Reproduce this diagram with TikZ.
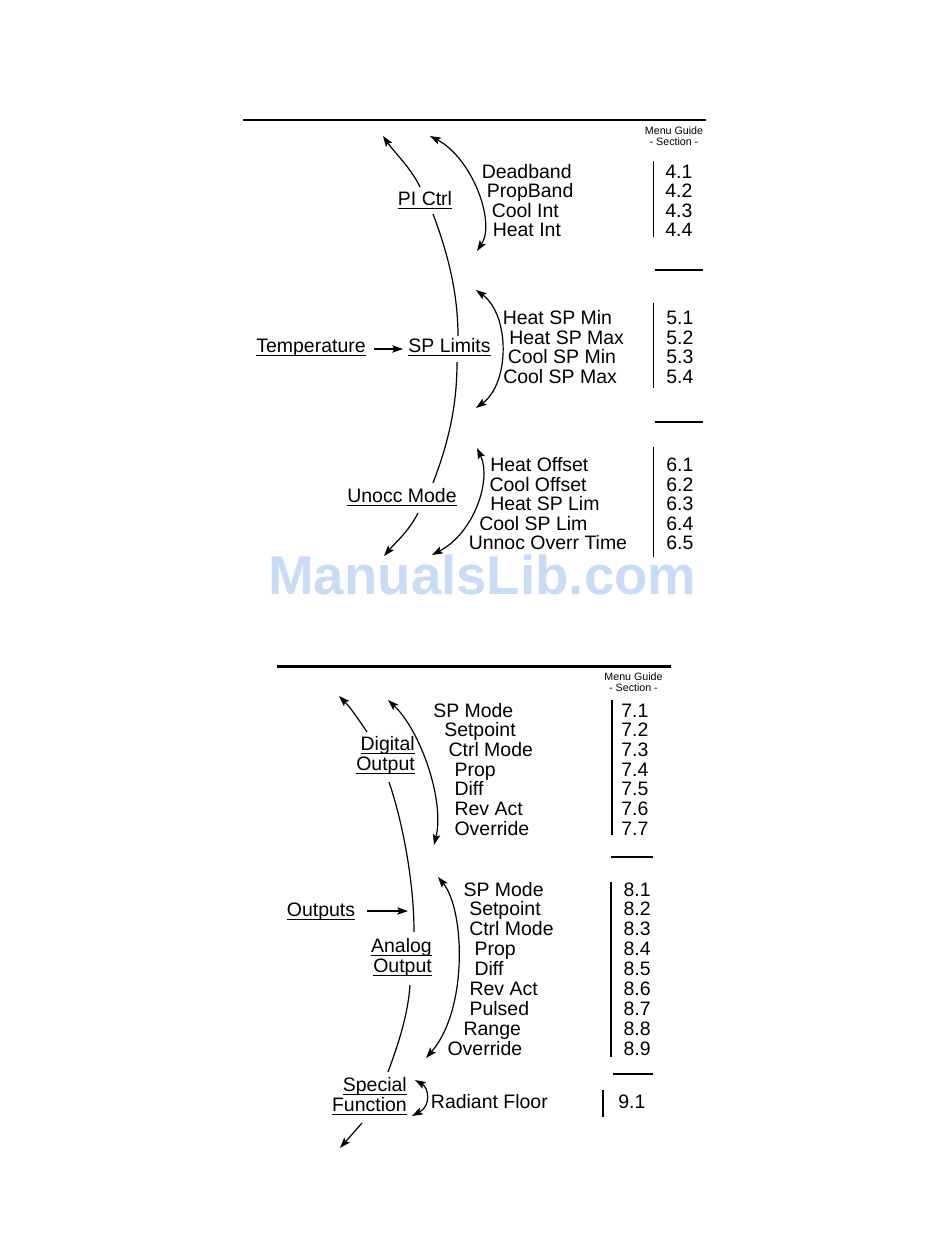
\documentclass[tikz,border=0pt]{standalone}
\usepackage{fontspec}
\setmainfont{Liberation Sans}
\usetikzlibrary{arrows.meta}
\definecolor{wm}{RGB}{200,220,245}
\newsavebox\ulbox
\newcommand\ulx[1]{\sbox\ulbox{#1}\rlap{\rule[-2.6pt]{\wd\ulbox}{0.75pt}}\usebox\ulbox}
\newcommand\mainsz{\fontsize{14.6pt}{15pt}\selectfont}
\tikzset{
  item/.style={anchor=base west, inner sep=0pt, font=\mainsz},
  lbl/.style={anchor=base, inner sep=0pt, font=\mainsz},
  lbltwo/.style={anchor=base east, inner sep=0pt, font=\mainsz},
  guide/.style={anchor=north, inner sep=0pt, align=center, font=\fontsize{8pt}{8.3pt}\selectfont},
  conn/.style={line width=0.9pt, -{Stealth[length=8pt,width=5.5pt,inset=1.5pt]}},
  dbl/.style={line width=0.9pt, {Stealth[length=8pt,width=5.5pt,inset=1.5pt]}-{Stealth[length=8pt,width=5.5pt,inset=1.5pt]}},
  plain/.style={line width=0.9pt},
  bar/.style={line width=0.8pt},
  topline/.style={line width=2.2pt}
}
\begin{document}
\begin{tikzpicture}[x=0.75pt,y=-0.75pt]
\useasboundingbox (0,0) rectangle (950,1260);
% watermark
\node[anchor=base west, inner sep=0pt, text=wm, font=\fontsize{41pt}{41pt}\selectfont\bfseries] (wmk) at (268,594) {ManualsLib.com};

% ================= TOP SECTION =================
\draw[topline] (243,120) -- (706,120);
\node[guide] (g1) at (674,126.5) {Menu Guide\\- Section -};

% group 4
\node[item] (a1) at (481.5,178.3) {Deadband};
\node[item] (a2) at (486.5,197.6) {PropBand};
\node[item] (a3) at (491.5,217) {Cool Int};
\node[item] (a4) at (492.5,236.3) {Heat Int};
\node[item] (n41) at (665,178.3) {4.1};
\node[item] (n42) at (665,197.6) {4.2};
\node[item] (n43) at (665,217) {4.3};
\node[item] (n44) at (665,236.3) {4.4};
\draw[bar] (653.5,161) -- (653.5,237);
\draw[bar] (655,270) -- (703,270);

% group 5
\node[item] (b1) at (502.5,324.5) {Heat SP Min};
\node[item] (b2) at (509,344) {Heat SP Max};
\node[item] (b3) at (507.5,363.5) {Cool SP Min};
\node[item] (b4) at (503,383) {Cool SP Max};
\node[item] (n51) at (666,324.5) {5.1};
\node[item] (n52) at (666,344) {5.2};
\node[item] (n53) at (666,363.5) {5.3};
\node[item] (n54) at (666,383) {5.4};
\draw[bar] (653.5,303) -- (653.5,388);
\draw[bar] (655,422) -- (703,422);

% group 6
\node[item] (c1) at (490,471.7) {Heat Offset};
\node[item] (c2) at (489.3,491.2) {Cool Offset};
\node[item] (c3) at (490,510.7) {Heat SP Lim};
\node[item] (c4) at (479,530) {Cool SP Lim};
\node[item] (c5) at (468.5,549.5) {Unnoc Overr Time};
\node[item] (n61) at (666,471.7) {6.1};
\node[item] (n62) at (666,491.2) {6.2};
\node[item] (n63) at (666,510.7) {6.3};
\node[item] (n64) at (666,530) {6.4};
\node[item] (n65) at (666,549.5) {6.5};
\draw[bar] (653.5,447) -- (653.5,557);

% left labels
\node[lbl] (pi) at (425,205.7) {\ulx{PI Ctrl}};
\node[lbl] (temp) at (311,352.3) {\ulx{Temperature}};
\node[lbl] (spl) at (449.5,352.3) {\ulx{SP Limits}};
\node[lbl] (unocc) at (402,502.3) {\ulx{Unocc Mode}};

% connectors top
\coordinate (piup) at (420,187);
\coordinate (piupt) at (383,136);
\draw[conn] (piup) .. controls (411,168) and (394,152) .. (piupt);
\coordinate (pidn) at (433,214);
\coordinate (spup) at (458,336);
\draw[plain] (pidn) .. controls (449,256) and (458,296) .. (spup);
\coordinate (spdn) at (457,362);
\coordinate (unup) at (433,483);
\draw[plain] (spdn) .. controls (457,405) and (449,441) .. (unup);
\coordinate (undn) at (418,513);
\coordinate (undnt) at (384,556);
\draw[conn] (undn) .. controls (409,531) and (396,542) .. (undnt);
\coordinate (tmpa) at (374,349);
\coordinate (tmpb) at (403,349);
\draw[conn] (tmpa) -- (tmpb);

\coordinate (t1a) at (430,136);
\coordinate (t1b) at (477,251);
\draw[dbl] (t1a) .. controls (472,158) and (496,222) .. (t1b);
\coordinate (t2a) at (476,290);
\coordinate (t2b) at (476,408);
\draw[dbl] (t2a) .. controls (510,315) and (510,383) .. (t2b);
\coordinate (t3a) at (477,448);
\coordinate (t3b) at (432,555);
\draw[dbl] (t3a) .. controls (492,480) and (474,533) .. (t3b);

% ================= BOTTOM SECTION =================
\draw[topline] (277,666.5) -- (671,666.5);
\node[guide] (g2) at (633.5,672.5) {Menu Guide\\- Section -};

% group 7
\node[item] (e1) at (433,717.3) {SP Mode};
\node[item] (e2) at (444,736.8) {Setpoint};
\node[item] (e3) at (448.3,756.3) {Ctrl Mode};
\node[item] (e4) at (454.3,776) {Prop};
\node[item] (e5) at (454.3,795.7) {Diff};
\node[item] (e6) at (454.3,815.7) {Rev Act};
\node[item] (e7) at (454.3,835.7) {Override};
\node[item] (n71) at (621,717.3) {7.1};
\node[item] (n72) at (621,736.8) {7.2};
\node[item] (n73) at (621,756.3) {7.3};
\node[item] (n74) at (621,776) {7.4};
\node[item] (n75) at (621,795.7) {7.5};
\node[item] (n76) at (621,815.7) {7.6};
\node[item] (n77) at (621,835.7) {7.7};
\draw[bar] (612,700) -- (612,835);
\draw[bar] (611,857) -- (653,857);

% group 8
\node[item] (f1) at (463.3,896) {SP Mode};
\node[item] (f2) at (469,915.5) {Setpoint};
\node[item] (f3) at (469,935.5) {Ctrl Mode};
\node[item] (f4) at (474.3,955.3) {Prop};
\node[item] (f5) at (474.3,975) {Diff};
\node[item] (f6) at (469.3,995) {Rev Act};
\node[item] (f7) at (469.3,1015) {Pulsed};
\node[item] (f8) at (463.3,1035) {Range};
\node[item] (f9) at (447.3,1055) {Override};
\node[item] (n81) at (623.3,896) {8.1};
\node[item] (n82) at (623.3,915.5) {8.2};
\node[item] (n83) at (623.3,935.5) {8.3};
\node[item] (n84) at (623.3,955.3) {8.4};
\node[item] (n85) at (623.3,975) {8.5};
\node[item] (n86) at (623.3,995) {8.6};
\node[item] (n87) at (623.3,1015) {8.7};
\node[item] (n88) at (623.3,1035) {8.8};
\node[item] (n89) at (623.3,1055) {8.9};
\draw[bar] (611,881.5) -- (611,1056.5);
\draw[bar] (612.5,1074) -- (653,1074);

% group 9
\node[item] (h1) at (430.7,1108.5) {Radiant Floor};
\node[item] (n91) at (618,1108.5) {9.1};
\draw[bar] (603,1090) -- (603,1117);

% left labels
\node[lbltwo] (dig) at (415,750.7) {\begin{tabular}[t]{@{}r@{}}\ulx{Digital}\\\ulx{Output}\end{tabular}};
\node[lbl] (outs) at (321,916.7) {\ulx{Outputs}};
\node[lbltwo] (ana) at (432,952.7) {\begin{tabular}[t]{@{}r@{}}\ulx{Analog}\\\ulx{Output}\end{tabular}};
\node[lbltwo] (spf) at (407,1091.7) {\begin{tabular}[t]{@{}r@{}}\ulx{Special}\\\ulx{Function}\end{tabular}};

% connectors bottom
\coordinate (digup) at (367,732);
\coordinate (digupt) at (339,696);
\draw[conn] (digup) .. controls (359,720) and (350,707) .. (digupt);
\coordinate (digdn) at (389,782);
\coordinate (anaup) at (414,932);
\draw[plain] (digdn) .. controls (402,820) and (414,880) .. (anaup);
\coordinate (outa) at (367,911);
\coordinate (outb) at (408,911);
\draw[conn] (outa) -- (outb);
\coordinate (anadn) at (410,985);
\coordinate (spfup) at (388,1072);
\draw[plain] (anadn) .. controls (408,1015) and (398,1045) .. (spfup);
\coordinate (spfdn) at (362,1123);
\coordinate (spfdnt) at (340,1148);
\draw[conn] (spfdn) -- (spfdnt);

\coordinate (d1a) at (388,700);
\coordinate (d1b) at (434,845);
\draw[dbl] (d1a) .. controls (420,730) and (445,800) .. (d1b);
\coordinate (d2a) at (438,877);
\coordinate (d2b) at (426,1058);
\draw[dbl] (d2a) .. controls (465,910) and (468,1010) .. (d2b);
\coordinate (d3a) at (415,1080);
\coordinate (d3b) at (412,1116);
\draw[dbl] (d3a) .. controls (429,1088) and (431,1106) .. (d3b);
\end{tikzpicture}
\end{document}
